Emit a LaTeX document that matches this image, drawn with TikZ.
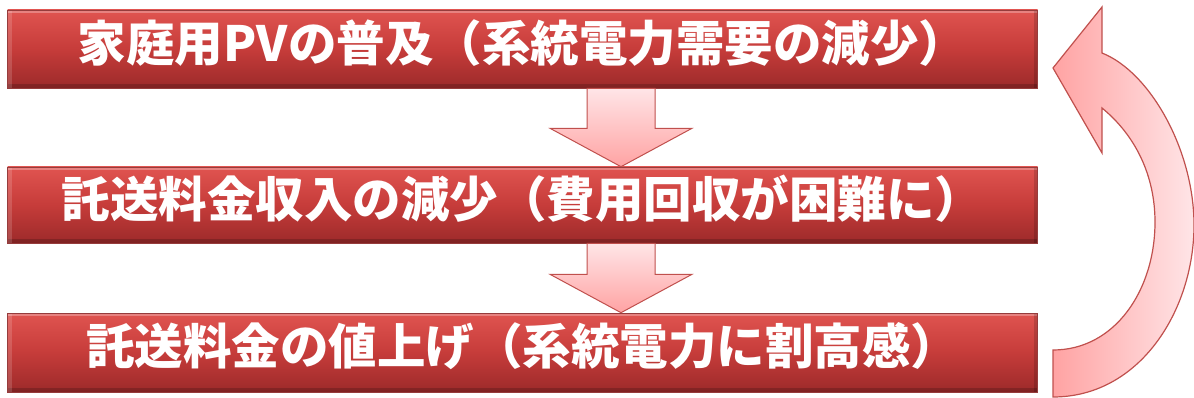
\documentclass[tikz,border=0pt]{standalone}
\usepackage{fontspec}
\newfontfamily\jp{Noto Sans CJK JP}
\usetikzlibrary{calc}
\definecolor{bartop}{RGB}{224,84,80}
\definecolor{barmid}{RGB}{198,60,58}
\definecolor{barbot}{RGB}{156,42,42}
\definecolor{baredge}{RGB}{150,60,60}
\definecolor{pinkdark}{RGB}{255,163,163}
\definecolor{pinklight}{RGB}{255,229,231}
\definecolor{edgered}{RGB}{192,80,77}
\begin{document}
\begin{tikzpicture}[x=1pt,y=-1pt,
  bar/.style={minimum width=1030pt, minimum height=78pt, inner sep=0pt,
    top color=bartop, bottom color=barbot, middle color=barmid,
    draw=baredge, line width=0.6pt, text=white,
    font=\jp\bfseries\fontsize{48.5}{48.5}\selectfont,
    text height=24.5pt, text depth=0pt,
    path picture={
      \fill[white,opacity=.28] (path picture bounding box.north west) rectangle ([yshift=-3pt]path picture bounding box.north east);
      \fill[black,opacity=.18] (path picture bounding box.south west) rectangle ([yshift=4pt]path picture bounding box.south east);
      \fill[white,opacity=.15] (path picture bounding box.north west) rectangle ([xshift=4pt]path picture bounding box.south west);
      \fill[black,opacity=.15] (path picture bounding box.north east) rectangle ([xshift=-4pt]path picture bounding box.south east);
    }},
  downarrow/.style={draw=edgered, line width=1pt, top color=pinklight, bottom color=pinkdark, line join=miter},
  looparrow/.style={draw=edgered, line width=1.2pt, left color=pinkdark, right color=pinklight, line join=miter}]
\useasboundingbox (0,0) rectangle (1194,398);

\node[bar] (b1) at (522.5,49) {家庭用PVの普及（系統電力需要の減少）};
\node[bar, minimum height=76pt] (b2) at (522.5,205) {託送料金収入の減少（費用回収が困難に）};
\node[bar, minimum height=79pt] (b3) at (522.5,352.5) {託送料金の値上げ（系統電力に割高感）};

% down arrows
\path[downarrow] ($(b1.south)+(64.5,0)$) -- ($(b1.south)+(64.5,40)$) -- ($(b1.south)+(27.5,40)$)
  -- ($(b2.north)+(98.5,0)$) -- ($(b1.south)+(169.5,40)$) -- ($(b1.south)+(132.5,40)$)
  -- ($(b1.south)+(132.5,0)$) -- cycle;
\path[downarrow] ($(b2.south)+(64.5,0)$) -- ($(b2.south)+(64.5,31)$) -- ($(b2.south)+(27.5,31)$)
  -- ($(b3.north)+(98.5,0)$) -- ($(b2.south)+(169.5,31)$) -- ($(b2.south)+(132.5,31)$)
  -- ($(b2.south)+(132.5,0)$) -- cycle;

% curved return arrow
\coordinate (lb) at (1053,350);
\coordinate (tip) at (1053,68);
\path[looparrow] (lb) -- (1053,397)
  .. controls (1140,397) and (1194,310) .. (1194,225)
  .. controls (1194,150) and (1150,72) .. (1102,53)
  -- (1102,7) -- (tip) -- (1102,153) -- (1102,108)
  .. controls (1135,135) and (1155,175) .. (1155,222)
  .. controls (1155,290) and (1115,350) .. (lb) -- cycle;
\end{tikzpicture}
\end{document}
